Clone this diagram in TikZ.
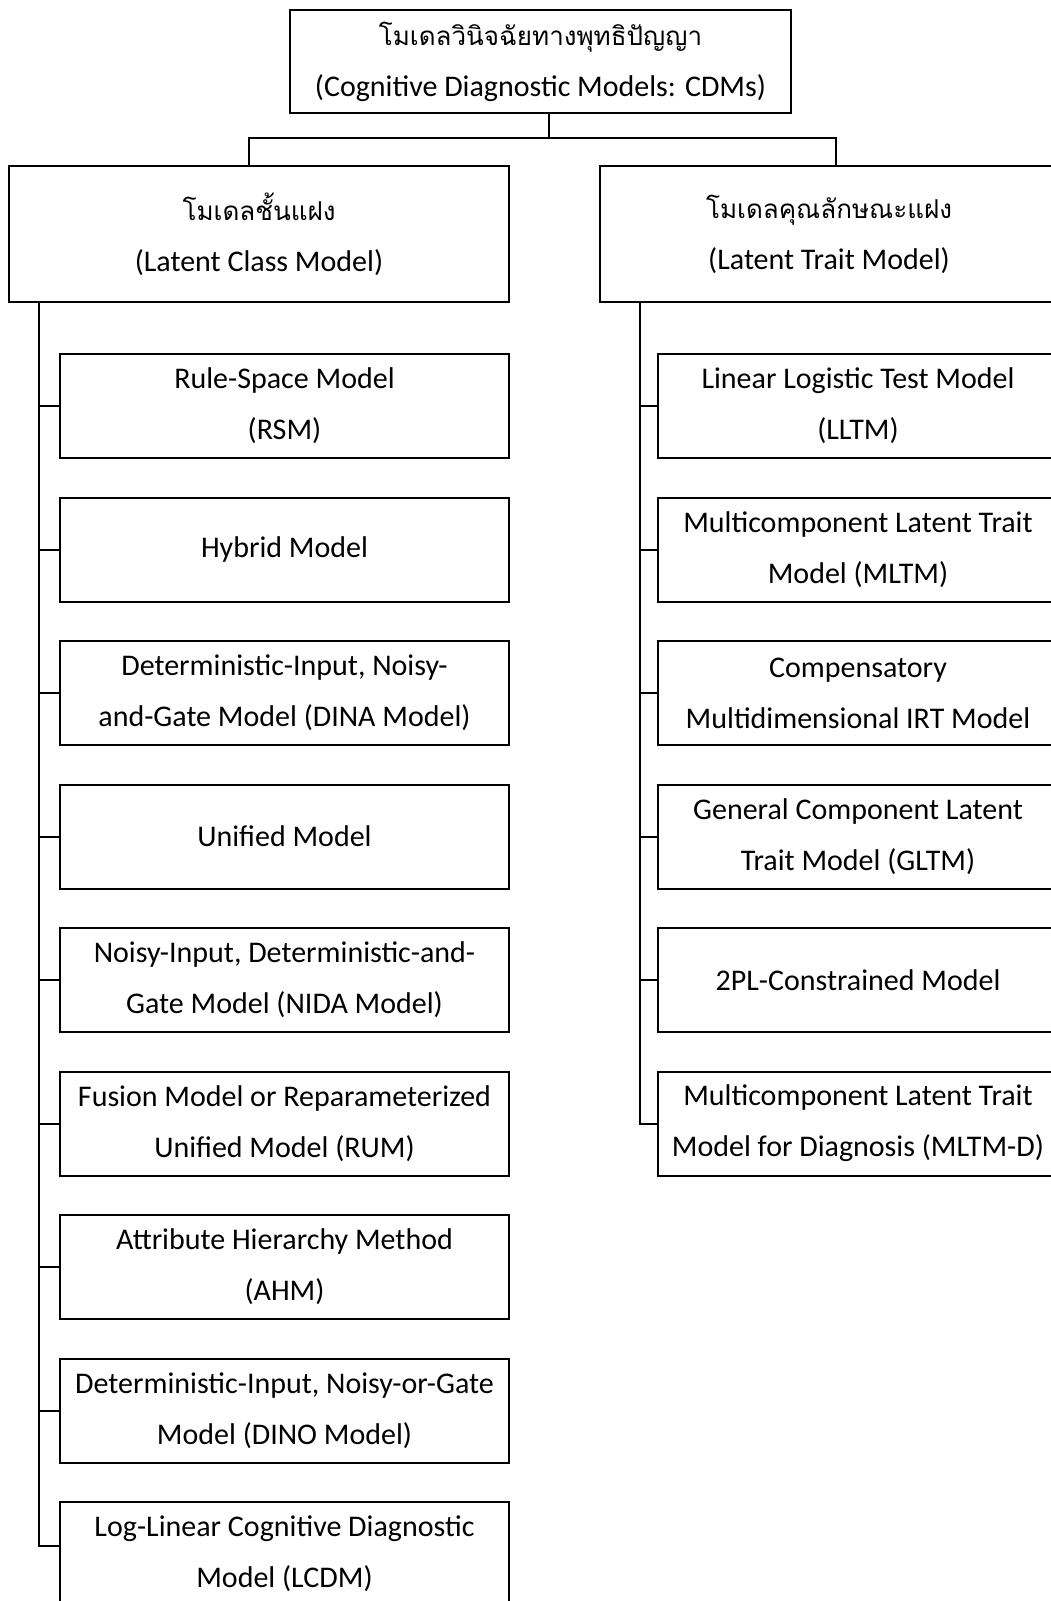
\documentclass[tikz,border=0pt]{standalone}
\usepackage{fontspec}
\setmainfont{Carlito}
\newfontfamily\thaifont[Script=Thai]{Loma}
\usetikzlibrary{calc}

\tikzset{
  box/.style={draw, line width=2pt, align=center, inner sep=0pt, font=\fontsize{30}{51}\selectfont},
  lbox/.style={box, minimum width=449pt, minimum height=104pt},
  rbox/.style={box, minimum width=400pt, minimum height=104pt},
  link/.style={line width=2pt},
}
\newcommand{\thtext}[1]{{\thaifont\fontsize{26}{51}\selectfont #1}}

\begin{document}
\begin{tikzpicture}[x=1pt,y=1pt]
% fix the page and cut what runs off its right side
\useasboundingbox (0,0) rectangle (1051,-1601);
\clip (0,0) rectangle (1051,-1601);

% the three upper boxes
\node[box, minimum width=501pt, minimum height=103pt] (cdm) at (540.5,-61.5)
  {\thtext{โมเดลวินิจฉัยทางพุทธิปัญญา}\\(Cognitive Diagnostic Models: CDMs)};
\node[box, minimum width=500pt, minimum height=136pt] (lcm) at (259,-234)
  {\thtext{โมเดลชั้นแฝง}\\(Latent Class Model)};
\node[box, minimum width=458pt, minimum height=136pt] (ltm) at (829,-234)
  {\thtext{โมเดลคุณลักษณะแฝง}\\(Latent Trait Model)};

% latent class models
\foreach \t [count=\i] in {{Rule-Space Model\\(RSM)}, {Hybrid Model},
    {Deterministic-Input, Noisy-\\and-Gate Model (DINA Model)}, {Unified Model},
    {Noisy-Input, Deterministic-and-\\Gate Model (NIDA Model)},
    {Fusion Model or Reparameterized\\Unified Model (RUM)},
    {Attribute Hierarchy Method\\(AHM)},
    {Deterministic-Input, Noisy-or-Gate\\Model (DINO Model)},
    {Log-Linear Cognitive Diagnostic\\Model (LCDM)}}
  \node[lbox] (L\i) at (284.5,{-406-143.5*(\i-1)}) {\t};

% latent trait models
\foreach \t [count=\i] in {{Linear Logistic Test Model\\(LLTM)},
    {Multicomponent Latent Trait\\Model (MLTM)},
    {Compensatory\\Multidimensional IRT Model},
    {General Component Latent\\Trait Model (GLTM)},
    {2PL-Constrained Model},
    {Multicomponent Latent Trait\\Model for Diagnosis (MLTM-D)}}
  \node[rbox] (R\i) at (858,{-406-143.5*(\i-1)}) {\t};

% the fork under the top box
\coordinate (hub) at (549,-138);
\draw[link] (hub |- cdm.south) -- (hub);
\draw[link] ([xshift=-10pt]lcm.north) |- (hub) -| ([xshift=7pt]ltm.north);

% the two trunks and their ticks
\coordinate (ltrunk) at ([xshift=31pt]lcm.south west);
\coordinate (rtrunk) at ([xshift=41pt]ltm.south west);
\draw[link] (ltrunk) |- ([yshift=8pt]L9.west);
\draw[link] (rtrunk) |- (R6.west);
\foreach \i in {1,...,8}
  \draw[link] (L\i.west) -- (L\i.west -| ltrunk);
\foreach \i in {1,...,5}
  \draw[link] (R\i.west) -- (R\i.west -| rtrunk);
\end{tikzpicture}
\end{document}
